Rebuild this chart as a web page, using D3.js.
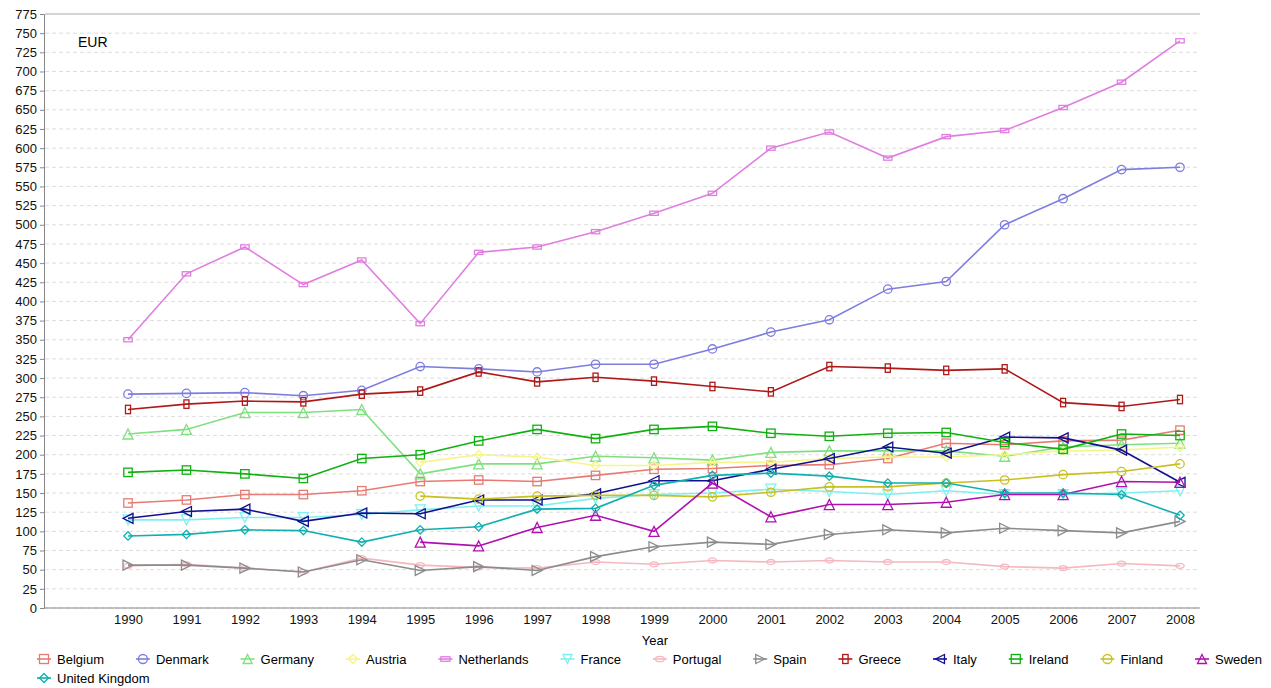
<!DOCTYPE html><html><head><meta charset="utf-8"><script src="https://cdn.jsdelivr.net/npm/d3@7"></script>
<style>body{margin:0;background:#fff}text{font-family:"Liberation Sans",Arial,sans-serif}</style></head><body><svg id="c" width="1271" height="688"></svg><script>
const years=d3.range(1990,2009);
const names=["Belgium","Denmark","Germany","Austria","Netherlands","France","Portugal","Spain","Greece","Italy","Ireland","Finland","Sweden","United Kingdom"];
const N=null;
const belgium=[137,141,148,148,153,165,167,165,173,181,182,186,187,195,215,213,218,219,232];
const denmark=[279,280,281,277,284,315,312,308,318,318,338,360,376,416,426,500,534,572,575];
const germany=[227,233,255,255,259,175,188,188,198,196,193,203,205,205,205,198,210,213,215];
const austria=[N,N,N,N,N,190,200,197,186,186,190,190,195,197,197,200,205,206,210];
const netherlands=[350,436,471,422,454,371,464,471,491,515,541,600,621,587,615,623,653,686,740];
const france=[115,115,118,118,122,128,133,133,143,148,150,155,152,148,153,148,148,150,153];
const portugal=[55,57,52,47,65,56,53,52,60,57,62,60,62,60,60,54,52,58,55];
const spain=[56,56,52,47,63,49,54,49,67,80,86,83,96,102,98,104,101,98,113];
const greece=[259,266,270,269,279,283,308,295,301,296,289,282,315,313,310,312,268,263,272];
const italy=[117,126,129,113,124,123,141,141,149,166,166,181,195,210,202,223,222,206,164];
const ireland=[177,180,175,169,195,200,218,233,221,233,237,228,224,228,229,216,207,227,225];
const finland=[N,N,N,N,N,146,142,146,147,147,145,151,158,158,163,167,174,178,188];
const sweden=[N,N,N,N,N,86,81,105,121,100,163,119,135,135,138,148,148,165,164];
const uk=[94,96,102,101,86,102,106,129,130,160,173,176,172,163,163,150,150,148,121];
const series=[belgium,denmark,germany,austria,netherlands,france,portugal,spain,greece,italy,ireland,finland,sweden,uk];
const colors=["#e87a74","#7d7de0","#7fe07f","#f5f58a","#e07ee0","#7ff0f0","#f5b8c0","#8c8c8c","#b01818","#101090","#10b010","#c8c020","#b010b0","#10b0b0"];
const shapes=["sq","ci","tu","di","rw","td","el","tr","rt","tl","sq","ci","tu","di"];
const ticks=d3.range(0,776,25);
const svg=d3.select("#c");
const x=d3.scaleLinear().domain([1990,2008]).range([128,1180]);
const y=d3.scaleLinear().domain([0,775]).range([608,14]);
const g=svg.append("g");
ticks.forEach(t=>g.append("line").attr("x1",45).attr("x2",1200).attr("y1",y(t)).attr("y2",y(t)).attr("stroke",t==775?"#aaa":"#ddd").attr("stroke-dasharray",t==775?null:"4,3"));
svg.append("g").attr("transform","translate(44,0)").call(d3.axisLeft(y).tickValues(ticks).tickSize(4).tickFormat(d3.format("d"))).call(a=>{a.selectAll("text").attr("font-size",13).attr("fill","#111");a.selectAll("path,line").attr("stroke","#888");});
svg.append("g").attr("transform","translate(0,608)").call(d3.axisBottom(x).tickValues(years).tickSize(0).tickPadding(7).tickFormat(d3.format("d"))).call(a=>{a.select("path").attr("d","M44,0H1200").attr("stroke","#888");a.selectAll("text").attr("font-size",13).attr("fill","#111");});
svg.append("text").attr("x",655).attr("y",645).attr("text-anchor","middle").attr("font-size",13).text("Year");
svg.append("text").attr("x",78).attr("y",47).attr("font-size",14).text("EUR");
function mark(sel,s,c,r){
  r=r||4.5;
  if(s=="ci")sel.append("circle").attr("r",r);
  else if(s=="el")sel.append("ellipse").attr("rx",r).attr("ry",r*0.6);
  else if(s=="sq")sel.append("rect").attr("x",-r).attr("y",-r).attr("width",2*r).attr("height",2*r);
  else if(s=="rw")sel.append("rect").attr("x",-r).attr("y",-r*0.5).attr("width",2*r).attr("height",r);
  else if(s=="rt")sel.append("rect").attr("x",-r*0.6).attr("y",-r).attr("width",r*1.2).attr("height",2*r);
  else{const p={tu:[[0,-r],[r,r],[-r,r]],td:[[0,r],[r,-r],[-r,-r]],tr:[[r,0],[-r,-r],[-r,r]],tl:[[-r,0],[r,-r],[r,r]],di:[[0,-r],[r,0],[0,r],[-r,0]]}[s];sel.append("polygon").attr("points",p.map(q=>q.join(",")).join(" "));}
  sel.selectAll("*").attr("fill","none").attr("stroke",c).attr("stroke-width",1.3);
}
const line=d3.line().defined(d=>d!=null).x((d,i)=>x(years[i])).y(d=>y(d));
series.forEach((s,k)=>{
  g.append("path").attr("d",line(s)).attr("fill","none").attr("stroke",colors[k]).attr("stroke-width",1.6);
  s.forEach((v,i)=>{if(v==null)return;mark(g.append("g").attr("transform",`translate(${x(years[i])},${y(v)})`),shapes[k],colors[k],shapes[k]=="tu"||shapes[k]=="td"||shapes[k]=="tl"||shapes[k]=="tr"?5:4.2);});
});
// legend
const lg=svg.append("g");
const items=names.map((n,k)=>{
  const it=lg.append("g");
  it.append("line").attr("x1",-7).attr("x2",7).attr("stroke",colors[k]).attr("stroke-width",1.6);
  mark(it.append("g"),shapes[k],colors[k],4.5);
  const t=it.append("text").attr("x",13).attr("y",4.5).attr("font-size",13).text(n);
  return {it,w:13+t.node().getComputedTextLength()};
});
const first=items.slice(0,13);const tot=d3.sum(first,d=>d.w);
const gap=(1262-44-tot)/12;
let lx=44;
first.forEach(d=>{d.it.attr("transform",`translate(${lx},659)`);lx+=d.w+gap;});
items[13].it.attr("transform",`translate(44,678)`);
</script></body></html>
